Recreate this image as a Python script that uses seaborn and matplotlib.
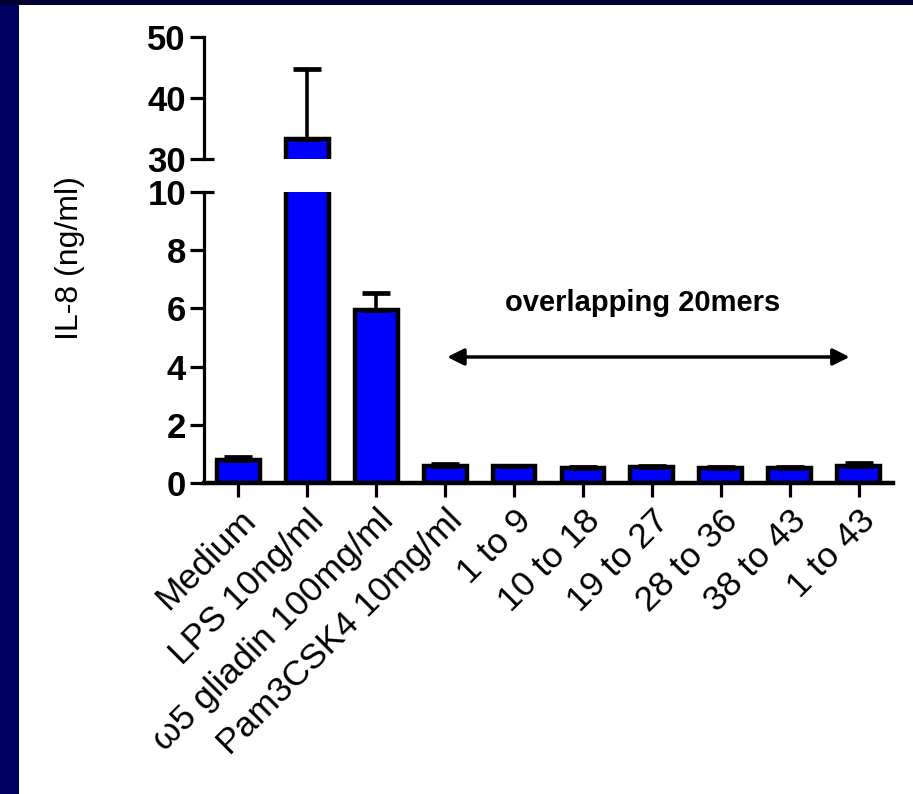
import matplotlib
matplotlib.use("Agg")
import matplotlib.pyplot as plt
import matplotlib.transforms as mtransforms
from matplotlib.patches import Rectangle
import numpy as np
import pandas as pd
import seaborn as sns

categories = ['Medium', 'LPS 10ng/ml', 'ω5 gliadin 100mg/ml', 'Pam3CSK4 10mg/ml',
              '1 to 9', '10 to 18', '19 to 27', '28 to 36', '38 to 43', '1 to 43']
means = [0.78, 33.2, 5.95, 0.59, 0.57, 0.50, 0.55, 0.50, 0.50, 0.58]
errs_up = [0.10, 11.5, 0.58, 0.06, 0.02, 0.04, 0.02, 0.04, 0.05, 0.10]
low_ticks = [0, 2, 4, 6, 8, 10]
up_ticks = [30, 40, 50]
ylabel = 'IL-8 (ng/ml)'
annotation = 'overlapping 20mers'

sns.set_style('white')
plt.rcParams['font.family'] = ['Liberation Sans', 'DejaVu Sans']

df = pd.DataFrame({'cond': categories, 'il8': means})

W, H = 913, 794
fig = plt.figure(figsize=(W / 100, H / 100), dpi=100)
fig.patch.set_facecolor('white')
fig.patches.append(Rectangle((0, 0), 19 / W, 1, transform=fig.transFigure,
                             facecolor='#000060', edgecolor='none', zorder=-5))
fig.patches.append(Rectangle((0, 1 - 5 / H), 1, 5 / H, transform=fig.transFigure,
                             facecolor='#000033', edgecolor='none', zorder=-5))

ax_low = fig.add_axes([204 / W, 1 - 483 / H, (893 - 204) / W, (483 - 192) / H])
ax_up = fig.add_axes([204 / W, 1 - 159 / H, (893 - 204) / W, (159 - 37) / H])

bar_kw = dict(data=df, x='cond', y='il8', order=categories, color='#0000FF',
              saturation=1, edgecolor='black', linewidth=3.2, width=0.62, errorbar=None)
lo_err = np.zeros(len(means))
for ax in (ax_low, ax_up):
    sns.barplot(ax=ax, **bar_kw)
    ax.errorbar(np.arange(len(categories)), means, yerr=[lo_err, errs_up], fmt='none',
                ecolor='black', elinewidth=2.6, capsize=10, capthick=3.4, zorder=3)
    ax.set_xlim(-0.5, len(categories) - 0.5)
    ax.set_facecolor('none')
    ax.set_xlabel('')
    ax.set_ylabel('')
    for s in ('top', 'right'):
        ax.spines[s].set_visible(False)
    ax.spines['left'].set_linewidth(2.3)
    ax.spines['left'].set_color('black')
    ax.tick_params(axis='y', direction='out', length=10, width=2.3, pad=3,
                   labelsize=25, colors='black', left=True)

ax_low.set_ylim(0, 10)
ax_low.set_yticks(low_ticks)
ax_low.set_yticklabels([str(t) for t in low_ticks], fontweight='bold', fontsize=25)
ax_low.spines['bottom'].set_linewidth(3.2)
ax_low.spines['bottom'].set_color('black')
ax_low.tick_params(axis='x', direction='out', length=10, width=2.3, pad=5,
                   bottom=True, colors='black')
ax_low.set_xticks(range(len(categories)))
ax_low.set_xticklabels(categories, rotation=45, ha='right', va='top',
                       rotation_mode='anchor', fontsize=25.5)

ax_up.set_ylim(30, 50)
ax_up.set_yticks(up_ticks)
ax_up.set_yticklabels([str(t) for t in up_ticks], fontweight='bold', fontsize=25)
ax_up.spines['bottom'].set_visible(False)
ax_up.set_xticks([])

# break marks extending right of the spine
for ax, yv in ((ax_low, 10), (ax_up, 30)):
    tr = mtransforms.blended_transform_factory(ax.transAxes, ax.transData)
    ax.plot([0, 0.014], [yv, yv], transform=tr, color='black', lw=2.3,
            clip_on=False, solid_capstyle='butt')

# annotation with double arrow
ax_low.text(5.86, 6.2, annotation, ha='center', va='center', fontsize=21,
            fontweight='bold', color='black')
ax_low.annotate('', xy=(3.03, 4.33), xytext=(8.87, 4.33),
                arrowprops=dict(arrowstyle='<|-|>', color='black', lw=2.5,
                                mutation_scale=25, shrinkA=0, shrinkB=0))

fig.text(70 / W, 1 - 258 / H, ylabel, rotation=90, ha='center', va='center',
         fontsize=23, color='black')

fig.savefig('out.png', dpi=100, facecolor=fig.get_facecolor())
